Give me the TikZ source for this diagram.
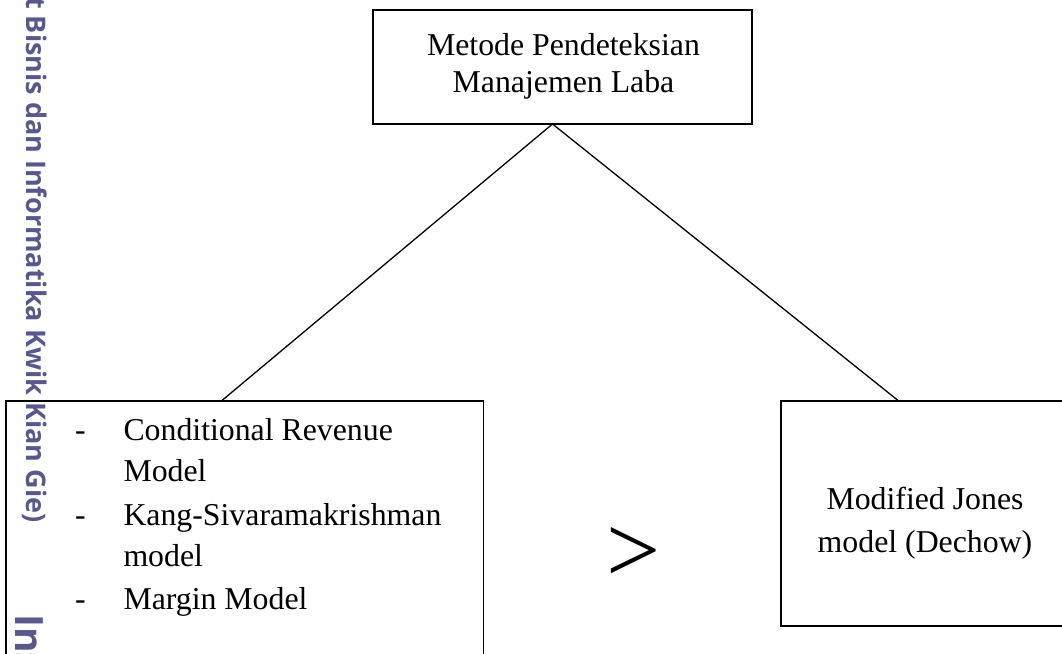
\documentclass[tikz,border=0pt]{standalone}
\usepackage{fontspec}
\setmainfont{Liberation Serif}
\newfontfamily\wmfont{Open Sans}
\definecolor{wm}{RGB}{88,88,140}
\tikzset{
  boxline/.style={draw=black, line width=1.6pt, fill=none},
  conn/.style={draw=black, line width=1.3pt},
  txt/.style={inner sep=0pt, font=\fontsize{31.8}{38}\selectfont},
  wmtxt/.style={inner sep=0pt, text=wm, rotate=-90, anchor=base west},
}
\begin{document}
\begin{tikzpicture}[x=1pt,y=-1pt]
\useasboundingbox (0,0) rectangle (1062,653);
\clip (0,0) rectangle (1062,653);
% boxes
\node[boxline, rectangle, minimum width=379pt, minimum height=114pt, inner sep=0pt] (top) at (562.2,67) {};
\node[boxline, rectangle, minimum width=477.6pt, minimum height=320pt, inner sep=0pt] (left) at (244.5,560.7) {};
\node[boxline, rectangle, minimum width=288pt, minimum height=225pt, inner sep=0pt] (right) at (925,513.2) {};
% connector ends
\coordinate (apex) at (552.5,124);
\coordinate (lend) at (221.7,400.7);
\coordinate (rend) at (898.3,400.7);
\draw[conn] (apex) -- (lend);
\draw[conn] (apex) -- (rend);
% top text
\node[txt, anchor=base] (t1) at (563.5,55) {Metode Pendeteksian};
\node[txt, anchor=base] (t2) at (563.5,92) {Manajemen Laba};
% left list
\node[txt, anchor=base west] (d1) at (75,440) {-};
\node[txt, anchor=base west] (l1) at (123.3,440) {Conditional Revenue};
\node[txt, anchor=base west] (l2) at (123.3,481.7) {Model};
\node[txt, anchor=base west] (d2) at (75,525) {-};
\node[txt, anchor=base west] (l3) at (123.3,525) {Kang-Sivaramakrishman};
\node[txt, anchor=base west] (l4) at (123.3,566.5) {model};
\node[txt, anchor=base west] (d3) at (75,609.3) {-};
\node[txt, anchor=base west] (l5) at (123.3,609.3) {Margin Model};
% right text
\node[txt, anchor=base] (r1) at (925,509.3) {Modified Jones};
\node[txt, anchor=base] (r2) at (925,552.7) {model (Dechow)};
% greater-than sign
\node[inner sep=0pt, anchor=base west, font=\fontsize{96}{96}\selectfont] (gt) at (606.3,582.5) {>};
% watermark
\node[wmtxt, font=\wmfont\bfseries\fontsize{27}{27}\selectfont] (wm1) at (26.7,-3) {t Bisnis dan Informatika Kwik Kian Gie)};
\node[wmtxt, font=\wmfont\bfseries\fontsize{39}{39}\selectfont] (wm2) at (15,614) {Ins};
\end{tikzpicture}
\end{document}
